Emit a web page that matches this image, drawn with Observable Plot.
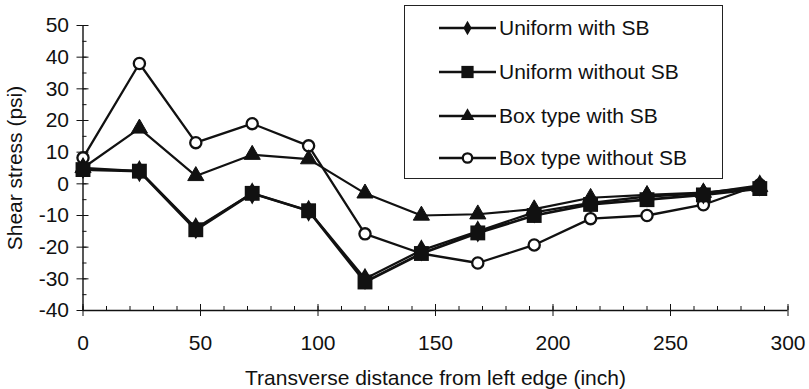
<!DOCTYPE html>
<html>
<head>
<meta charset="utf-8">
<script src="https://cdn.jsdelivr.net/npm/d3@7"></script>
<script src="https://cdn.jsdelivr.net/npm/@observablehq/plot@0.6"></script>
<style>
  html, body { margin: 0; padding: 0; background: #fff; }
  #wrap { position: relative; width: 809px; height: 389px; font-family: "Liberation Sans", Arial, sans-serif; }
  #legend { position: absolute; left: 404px; top: 5px; width: 317px; height: 172px; border: 1.5px solid #222; background: #fff; }
  .row { position: absolute; left: 33px; height: 24px; display: flex; align-items: center; font-size: 21px; color: #111; }
  .row svg { display: block; margin-right: 3px; }
</style>
</head>
<body>
<div id="wrap"></div>
<script>
const distance = [0, 24, 48, 72, 96, 120, 144, 168, 192, 216, 240, 264, 288];
const uniformWithSB    = [5, 4, -14, -3, -8.5, -30, -21, -15, -9, -6, -4, -3, -0.5];
const uniformWithoutSB = [4.5, 4, -14.5, -3, -8.5, -31, -22, -15.5, -10, -6.5, -5, -3.5, -1.5];
const boxWithSB        = [5, 17.5, 2.5, 9.2, 7.8, -3, -10, -9.6, -8, -4.4, -3.5, -2.8, -1];
const boxWithoutSB     = [8.2, 38, 13, 19, 12, -15.8, -22, -25, -19.3, -11, -10, -6.6, -0.3];
const seriesNames = ["Uniform with SB", "Uniform without SB", "Box type with SB", "Box type without SB"];
const xTicks = [0, 50, 100, 150, 200, 250, 300];
const yTicks = [-40, -30, -20, -10, 0, 10, 20, 30, 40, 50];

const rows = (vals) => distance.map((d, i) => ({x: d, y: vals[i]}));
const dUwith = rows(uniformWithSB), dUwo = rows(uniformWithoutSB), dBwith = rows(boxWithSB), dBwo = rows(boxWithoutSB);

const ink = "#111";
const fmt = (d) => String(d);
const chart = Plot.plot({
  width: 809, height: 389,
  marginLeft: 82.5, marginRight: 21.5, marginTop: 25, marginBottom: 79,
  style: {fontFamily: "'Liberation Sans', Arial, sans-serif", fontSize: "21px", color: ink, background: "white"},
  x: {domain: [0, 300]},
  y: {domain: [-40, 50]},
  marks: [
    // minor ticks
    Plot.axisX({ticks: d3.range(0, 301, 10), tickSize: -4, text: null, label: null, stroke: ink}),
    Plot.axisY({ticks: d3.range(-40, 51, 5), tickSize: -4, text: null, label: null, stroke: ink}),
    // major ticks crossing axes
    Plot.axisX({ticks: xTicks, tickSize: 6, text: null, label: null, stroke: ink}),
    Plot.axisX({ticks: xTicks, tickSize: -6, text: null, label: null, stroke: ink}),
    Plot.axisY({ticks: yTicks, tickSize: 6, text: null, label: null, stroke: ink}),
    Plot.axisY({ticks: yTicks, tickSize: -6, text: null, label: null, stroke: ink}),
    // labels
    Plot.axisX({ticks: xTicks, tickSize: 0, tickPadding: 25, tickFormat: fmt, label: "Transverse distance from left edge (inch)", labelAnchor: "center", labelArrow: "none", labelOffset: 74, fontSize: 21, fill: ink}),
    Plot.axisY({ticks: yTicks, tickSize: 0, tickPadding: 14, tickFormat: fmt, label: "Shear stress (psi)", labelAnchor: "center", labelOffset: 76, labelArrow: "none", fontSize: 21, fill: ink}),
    Plot.ruleX([0], {stroke: ink, strokeWidth: 1.4}),
    Plot.ruleY([-40], {stroke: ink, strokeWidth: 1.4}),
    // series
    Plot.line(dBwo, {x: "x", y: "y", stroke: ink, strokeWidth: 2.3}),
    Plot.line(dBwith, {x: "x", y: "y", stroke: ink, strokeWidth: 2.2}),
    Plot.line(dUwo, {x: "x", y: "y", stroke: ink, strokeWidth: 2.8}),
    Plot.line(dUwith, {x: "x", y: "y", stroke: ink, strokeWidth: 2.3}),
    Plot.dot(dBwo, {x: "x", y: "y", symbol: "circle", r: 5.6, fill: "white", stroke: ink, strokeWidth: 2.3}),
    Plot.dot(dBwith, {x: "x", y: "y", symbol: "triangle", r: 6, fill: ink, stroke: ink, strokeWidth: 1}),
    Plot.dot(dUwith, {x: "x", y: "y", symbol: "diamond", r: 5.8, fill: ink, stroke: ink}),
    Plot.dot(dUwo, {x: "x", y: "y", symbol: "square", r: 8.4, fill: ink, stroke: "none"})
  ]
});
const wrap = document.getElementById("wrap");
wrap.appendChild(chart);

// legend
const legend = document.createElement("div");
legend.id = "legend";
wrap.appendChild(legend);
const legendSymbols = [
  {type: d3.symbolDiamond, size: 60, fill: ink, stroke: "none"},
  {type: d3.symbolSquare, size: 150, fill: ink, stroke: "none"},
  {type: d3.symbolTriangle, size: 80, fill: ink, stroke: "none"},
  {type: d3.symbolCircle, size: 70, fill: "white", stroke: ink}
];
const rowTops = [10, 54, 98, 140];
seriesNames.forEach((name, i) => {
  const row = document.createElement("div");
  row.className = "row";
  row.style.top = rowTops[i] + "px";
  const s = legendSymbols[i];
  const sym = d3.symbol(s.type, s.size)();
  row.innerHTML = `<svg width="58" height="24"><line x1="1" x2="58" y1="12" y2="12" stroke="${ink}" stroke-width="2.3"/><path transform="translate(29.5,12)" d="${sym}" fill="${s.fill}" stroke="${s.stroke}" stroke-width="2.3"/></svg><span>${name}</span>`;
  legend.appendChild(row);
});
</script>
</body>
</html>
